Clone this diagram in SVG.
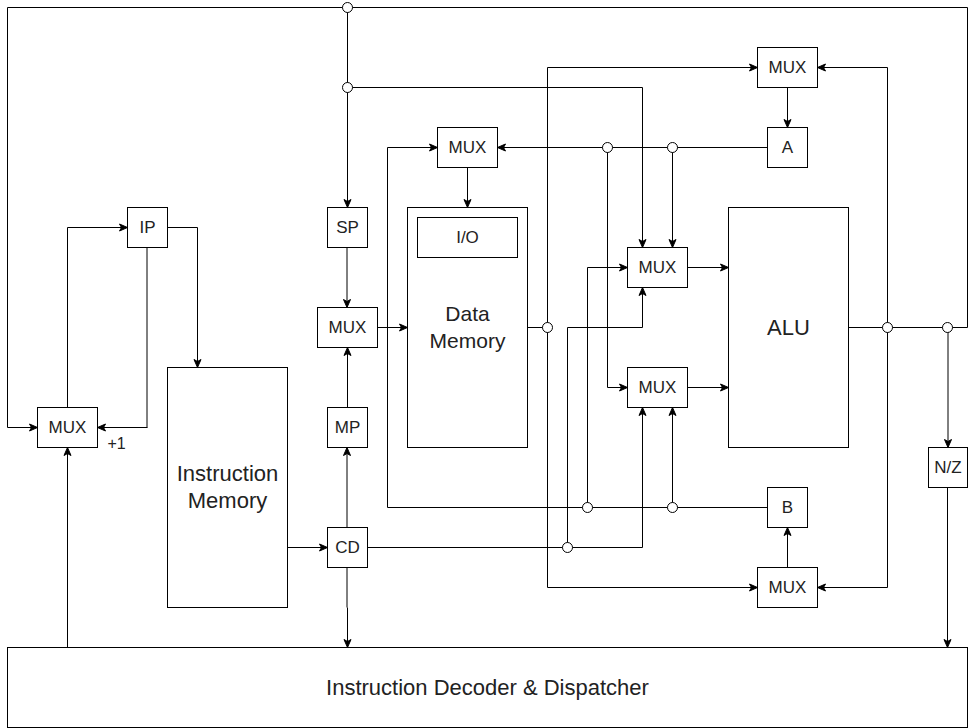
<svg xmlns="http://www.w3.org/2000/svg" width="976" height="728" viewBox="0 0 976 728">
<defs>
<style>
.box{fill:#fff;stroke:#000;stroke-width:1}
.w{fill:none;stroke:#000;stroke-width:1}
.g{fill:none;stroke:#000;stroke-width:1}
.a{marker-end:url(#arr)}
.j{fill:#fff;stroke:#000;stroke-width:1}
text{font-family:"Liberation Sans",Arial,sans-serif;fill:#222;text-anchor:middle;dominant-baseline:central}
.s{font-size:17px}
.m{font-size:21px}
.l{font-size:22px}
</style>
<marker id="arr" viewBox="-9 -5 10 10" refX="0" refY="0" markerWidth="10" markerHeight="10" markerUnits="userSpaceOnUse" orient="auto" overflow="visible">
<path d="M-8,-3.5 L0,0 L-8,3.5 L-6,0 Z" fill="#000" stroke="#000" stroke-width="1" stroke-linejoin="miter"/>
</marker>
</defs>
<rect width="976" height="728" fill="#fff"/>
<g id="connectors">
<g transform="translate(0.5 0.5)">
<path class="w a" d="M848,327 H967 V7 H7 V427 H37"/>
<path class="w a" d="M347,7 V207"/>
<path class="w a" d="M347,87 H642 V247"/>
<path class="w" d="M527,327 H547"/>
<path class="w a" d="M547,327 V67 H757"/>
<path class="w a" d="M547,327 V587 H757"/>
<path class="w a" d="M887,327 V67 H817"/>
<path class="w a" d="M887,327 V587 H817"/>
<path class="w a" d="M787,87 V127"/>
<path class="w a" d="M787,567 V527"/>
<path class="w a" d="M767,147 H497"/>
<path class="w a" d="M607,147 V387 H627"/>
<path class="w a" d="M672,147 V247"/>
<path class="w a" d="M767,507 H387 V147 H437"/>
<path class="w a" d="M587,507 V267 H627"/>
<path class="w a" d="M672,507 V407"/>
<path class="w a" d="M367,547 H642 V407"/>
<path class="w a" d="M567,547 V327 H642 V287"/>
<path class="w a" d="M687,267 H728"/>
<path class="w a" d="M687,387 H728"/>
<path class="w a" d="M467,167 V207"/>
<path class="w a" d="M377,327 H407"/>
<path class="w a" d="M347,407 V347"/>
<path class="w a" d="M347,607 V647"/>
<path class="w a" d="M287,547 H327"/>
<path class="w a" d="M167,227 H197 V367"/>
<path class="w a" d="M147,427 H97"/>
<path class="w a" d="M67,407 V227 H127"/>
<path class="w a" d="M67,647 V447"/>
<path class="w a" d="M947,487 V647"/>
</g>
<path class="g a" d="M347,527 V447.5"/>
<path class="g a" d="M347,247.5 V307.5"/>
<path class="g" d="M347,567.5 V607.5"/>
<path class="g" d="M147,247.5 V427.5"/>
<path class="g a" d="M948,327.5 V447.5"/>
</g>
<g transform="translate(0.5 0.5)">
<g id="junctions">
<circle class="j" cx="347" cy="7" r="5"/>
<circle class="j" cx="347" cy="87" r="5"/>
<circle class="j" cx="547" cy="327" r="5"/>
<circle class="j" cx="607" cy="147" r="5"/>
<circle class="j" cx="672" cy="147" r="5"/>
<circle class="j" cx="587" cy="507" r="5"/>
<circle class="j" cx="672" cy="507" r="5"/>
<circle class="j" cx="567" cy="547" r="5"/>
<circle class="j" cx="887" cy="327" r="5"/>
<circle class="j" cx="947" cy="327" r="5"/>
</g>
<g id="mux-pc"><rect class="box" x="37" y="407" width="60" height="40"/><text class="s" x="67" y="427">MUX</text></g>
<text id="plus1" x="107" y="448" style="font-size:16px;text-anchor:start;dominant-baseline:auto">+1</text>
<g id="ip"><rect class="box" x="127" y="207" width="40" height="40"/><text class="s" x="147" y="227">IP</text></g>
<g id="imem"><rect class="box" x="167" y="367" width="120" height="240"/><text class="l" x="227" y="473">Instruction</text><text class="l" x="227" y="500">Memory</text></g>
<g id="sp"><rect class="box" x="327" y="207" width="40" height="40"/><text class="s" x="347" y="227">SP</text></g>
<g id="mux-addr"><rect class="box" x="317" y="307" width="60" height="40"/><text class="s" x="347" y="327">MUX</text></g>
<g id="mp"><rect class="box" x="327" y="407" width="40" height="40"/><text class="s" x="347" y="427">MP</text></g>
<g id="cd"><rect class="box" x="327" y="527" width="40" height="40"/><text class="s" x="347" y="547">CD</text></g>
<g id="dmem"><rect class="box" x="407" y="207" width="120" height="240"/><text class="m" x="467" y="313">Data</text><text class="m" x="467" y="340">Memory</text></g>
<g id="io"><rect class="box" x="417" y="217" width="100" height="40"/><text class="s" x="467" y="237">I/O</text></g>
<g id="mux-data"><rect class="box" x="437" y="127" width="60" height="40"/><text class="s" x="467" y="147">MUX</text></g>
<g id="mux-a"><rect class="box" x="757" y="47" width="60" height="40"/><text class="s" x="787" y="67">MUX</text></g>
<g id="reg-a"><rect class="box" x="767" y="127" width="40" height="40"/><text class="s" x="787" y="147">A</text></g>
<g id="mux-alu1"><rect class="box" x="627" y="247" width="60" height="40"/><text class="s" x="657" y="267">MUX</text></g>
<g id="mux-alu2"><rect class="box" x="627" y="367" width="60" height="40"/><text class="s" x="657" y="387">MUX</text></g>
<g id="alu"><rect class="box" x="728" y="207" width="120" height="240"/><text class="l" x="788" y="327">ALU</text></g>
<g id="reg-b"><rect class="box" x="767" y="487" width="40" height="40"/><text class="s" x="787" y="507">B</text></g>
<g id="mux-b"><rect class="box" x="757" y="567" width="60" height="40"/><text class="s" x="787" y="587">MUX</text></g>
<g id="nz"><rect class="box" x="928" y="447" width="39" height="40"/><text class="s" x="947.5" y="467">N/Z</text></g>
<g id="decoder"><rect class="box" x="7" y="647" width="960" height="80"/><text class="l" x="487" y="687">Instruction Decoder &amp; Dispatcher</text></g>
</g>
</svg>
